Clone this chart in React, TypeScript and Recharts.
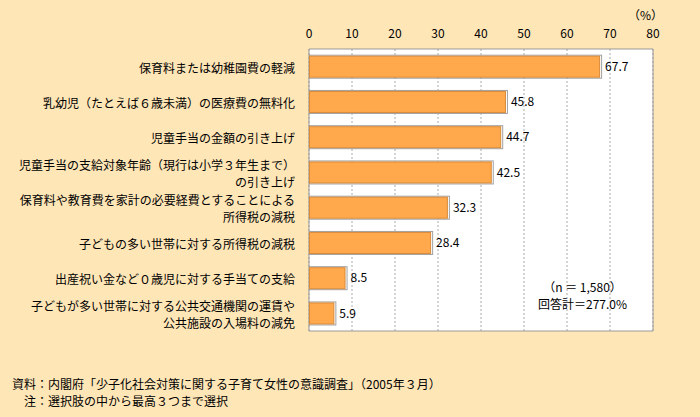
import { BarChart, Bar, XAxis, YAxis, CartesianGrid, LabelList, ReferenceArea } from 'recharts';

const labels = [
  '保育料または幼稚園費の軽減',
  '乳幼児（たとえば６歳未満）の医療費の無料化',
  '児童手当の金額の引き上げ',
  '児童手当の支給対象年齢（現行は小学３年生まで）\nの引き上げ',
  '保育料や教育費を家計の必要経費とすることによる\n所得税の減税',
  '子どもの多い世帯に対する所得税の減税',
  '出産祝い金など０歳児に対する手当ての支給',
  '子どもが多い世帯に対する公共交通機関の運賃や\n公共施設の入場料の減免',
];
const values = [67.7, 45.8, 44.7, 42.5, 32.3, 28.4, 8.5, 5.9];
const xTicks = [0, 10, 20, 30, 40, 50, 60, 70, 80];

const data = labels.map((name, i) => ({ name, value: values[i] }));

const font = '"Noto Sans CJK JP", "Noto Sans", sans-serif';

const CategoryTick = (props: any) => {
  const { x, y, payload } = props;
  const lines = String(payload.value).split('\n');
  const lh = 17.5;
  const start = y - ((lines.length - 1) * lh) / 2;
  return (
    <text x={x - 6} y={start} textAnchor="end" fontSize={12} fill="#000" fontFamily={font} dominantBaseline="central">
      {lines.map((l, i) => (
        <tspan key={i} x={x - 6} y={start + i * lh}>{l}</tspan>
      ))}
    </text>
  );
};

const ValueTick = (props: any) => {
  const { x, payload } = props;
  return (
    <text x={x} y={38} textAnchor="middle" fontSize={12} fill="#000" fontFamily={font}>
      {payload.value}
    </text>
  );
};

const BarShape = (props: any) => {
  const { x, y, width, height } = props;
  return (
    <g>
      <rect x={x + 0.5} y={y - 0.5} width={width + 1} height={height + 1} fill="none" stroke="#a0a0a0" />
      <rect x={x + 0.5} y={y + 0.5} width={Math.max(width - 1, 0)} height={height - 1} fill="#FFA84C" stroke="#D98A38" />
    </g>
  );
};

export default function App() {
  return (
    <div style={{ position: 'absolute', left: 0, top: 0, width: 700, height: 417, background: '#FFE6B7', fontFamily: font }}>
      <BarChart
        width={700}
        height={417}
        data={data}
        layout="vertical"
        margin={{ top: 0, right: 47, bottom: 86, left: 0 }}
        barCategoryGap="19%"
      >
        <CartesianGrid horizontal={false} vertical strokeDasharray="2 2" stroke="#aaa" fill="#fff" />
        <XAxis
          type="number"
          orientation="top"
          domain={[0, 80]}
          ticks={xTicks}
          height={49}
          axisLine={false}
          tickLine={false}
          tick={<ValueTick />}
          interval={0}
        />
        <YAxis
          type="category"
          dataKey="name"
          width={309}
          axisLine={false}
          tickLine={false}
          tick={<CategoryTick />}
          interval={0}
        />
        <ReferenceArea x1={0} x2={80} fill="none" stroke="#999" strokeWidth={1} ifOverflow="extendDomain" />
        <Bar dataKey="value" shape={<BarShape />} isAnimationActive={false}>
          <LabelList dataKey="value" position="right" offset={5} fontSize={12} fill="#000" fontFamily={font} formatter={(v: any) => Number(v).toFixed(1)} />
        </Bar>
      </BarChart>
      <div style={{ position: 'absolute', left: 628, top: 6, fontSize: 12, lineHeight: '17px' }}>（%）</div>
      <div style={{ position: 'absolute', left: 538, top: 278, fontSize: 12, lineHeight: '17px', textAlign: 'center' }}>
        （n ＝ 1,580）<br />回答計＝277.0%
      </div>
      <div style={{ position: 'absolute', left: 12, top: 375, fontSize: 12, lineHeight: '17px' }}>
        <div>資料：内閣府「少子化社会対策に関する子育て女性の意識調査」（2005年３月）</div>
        <div><span style={{ display: 'inline-block', width: 12 }} />注：選択肢の中から最高３つまで選択</div>
      </div>
    </div>
  );
}
